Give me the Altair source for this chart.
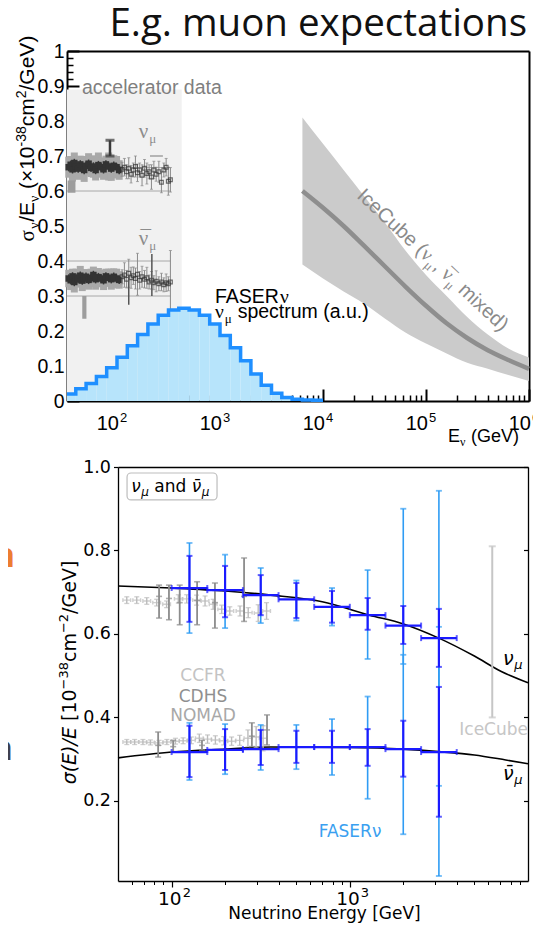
import altair as alt
import pandas as pd

W, H = 525, 916

# ================= TOP PANEL DATA =================
hist_edges = [32.7, 39.8, 50.1, 63.1, 79.4, 100, 125.9, 158.5, 199.5, 251.2, 316.2,
              398.1, 501.2, 631.0, 794.3, 1000, 1259, 1585, 1995, 2512, 3162, 3981,
              5012, 6310, 7943, 10000]
hist_vals = [0.020, 0.035, 0.050, 0.070, 0.095, 0.125, 0.158, 0.190, 0.220, 0.245,
             0.260, 0.265, 0.260, 0.245, 0.220, 0.187, 0.152, 0.115, 0.077, 0.045,
             0.022, 0.010, 0.005, 0.003, 0.002]

ice_E = [6310, 1e4, 1.585e4, 2.512e4, 3.981e4, 6.31e4, 1e5, 1.585e5, 2.512e5, 3.981e5, 6.31e5, 1e6]
ice_lo = [0.390, 0.350, 0.313, 0.278, 0.236, 0.196, 0.164, 0.136, 0.109, 0.092, 0.074, 0.057]
ice_hi = [0.810, 0.735, 0.660, 0.585, 0.510, 0.430, 0.360, 0.300, 0.240, 0.190, 0.150, 0.124]
ice_c = [0.600, 0.552, 0.500, 0.443, 0.385, 0.327, 0.272, 0.222, 0.180, 0.145, 0.117, 0.092]

acc_E = [34, 35.5, 37, 38.5, 40, 42, 44, 46, 48, 50, 53, 56, 59, 62, 66, 70, 74, 78, 83, 88, 93, 99, 105]
acc_nu_v = [0.668, 0.675, 0.662, 0.680, 0.670, 0.664, 0.676, 0.668, 0.660, 0.672, 0.678, 0.666,
            0.670, 0.660, 0.674, 0.668, 0.662, 0.676, 0.670, 0.664, 0.672, 0.668, 0.660]
acc_nu_box = [0.030, 0.025, 0.035, 0.030, 0.028, 0.032, 0.025, 0.030, 0.034, 0.028, 0.030, 0.026,
              0.032, 0.030, 0.036, 0.028, 0.030, 0.025, 0.040, 0.035, 0.030, 0.032, 0.028]
acc_nub_v = [0.350, 0.345, 0.356, 0.340, 0.352, 0.348, 0.358, 0.344, 0.350, 0.355, 0.346, 0.352,
             0.360, 0.348, 0.354, 0.350, 0.345, 0.356, 0.352, 0.348, 0.355, 0.350, 0.346]
acc_nub_box = [0.025, 0.028, 0.022, 0.030, 0.026, 0.024, 0.028, 0.030, 0.025, 0.022, 0.028, 0.026,
               0.024, 0.030, 0.026, 0.025, 0.028, 0.022, 0.026, 0.030, 0.024, 0.028, 0.025]

sp_E = [112, 118, 124, 130, 137, 144, 151, 158, 166, 175, 185, 195, 205, 216, 228, 240, 255, 270, 285, 300, 315, 330]
sp_nu_v = [0.662, 0.668, 0.655, 0.665, 0.648, 0.660, 0.670, 0.652, 0.660, 0.645, 0.665, 0.650,
           0.655, 0.640, 0.660, 0.648, 0.655, 0.625, 0.660, 0.668, 0.628, 0.632]
sp_nu_err = [0.020, 0.025, 0.020, 0.030, 0.025, 0.020, 0.030, 0.025, 0.020, 0.030, 0.025, 0.030,
             0.020, 0.035, 0.025, 0.020, 0.030, 0.030, 0.020, 0.025, 0.040, 0.035]
sp_nub_v = [0.355, 0.360, 0.348, 0.365, 0.352, 0.358, 0.350, 0.362, 0.345, 0.355, 0.348, 0.352,
            0.340, 0.345, 0.338, 0.342, 0.335, 0.340, 0.332, 0.338, 0.335, 0.340]
sp_nub_err = [0.020, 0.035, 0.025, 0.040, 0.030, 0.025, 0.030, 0.060, 0.025, 0.030, 0.025, 0.030,
              0.020, 0.025, 0.020, 0.030, 0.020, 0.025, 0.020, 0.025, 0.020, 0.090]

acc_lines_E1 = [32.7, 110, 32.7, 32.7, 200]
acc_lines_E2 = [330, 330, 330, 330, 330]
acc_lines_v = [0.600, 0.667, 0.400, 0.300, 0.340]

# ================= BOTTOM PANEL DATA =================
fx_lo = [100, 158.5, 251.2, 398.1, 631.0, 1000, 1585, 2512]
fx_hi = [158.5, 251.2, 398.1, 631.0, 1000, 1585, 2512, 3981]
fx_c = [125.9, 199.5, 316.2, 501.2, 794.3, 1259, 1995, 3162]

nu_c = [0.710, 0.705, 0.693, 0.683, 0.665, 0.645, 0.620, 0.590]
nu_st_lo = [0.629, 0.640, 0.645, 0.638, 0.627, 0.610, 0.576, 0.521]
nu_st_hi = [0.787, 0.763, 0.741, 0.722, 0.703, 0.686, 0.667, 0.660]
nu_tot_lo = [0.602, 0.614, 0.626, 0.632, 0.620, 0.540, 0.528, 0.236]
nu_tot_hi = [0.818, 0.790, 0.758, 0.728, 0.710, 0.753, 0.900, 0.943]

nub_c = [0.317, 0.322, 0.324, 0.329, 0.329, 0.329, 0.324, 0.317]
nub_st_lo = [0.257, 0.274, 0.286, 0.291, 0.291, 0.284, 0.258, 0.162]
nub_st_hi = [0.380, 0.372, 0.370, 0.368, 0.368, 0.372, 0.392, 0.473]
nub_tot_lo = [0.250, 0.264, 0.274, 0.276, 0.262, 0.205, 0.120, 0.020]
nub_tot_hi = [0.387, 0.384, 0.382, 0.382, 0.396, 0.450, 0.550, 0.617]

nu_curve_E = [50, 100, 200, 360, 700, 1290, 2000, 3160, 5000, 7080, 10000]
nu_curve_v = [0.715, 0.710, 0.703, 0.693, 0.677, 0.645, 0.624, 0.590, 0.547, 0.510, 0.483]
nub_curve_E = [50, 100, 200, 360, 1000, 2000, 3160, 5000, 7500, 10000]
nub_curve_v = [0.303, 0.317, 0.324, 0.329, 0.328, 0.324, 0.318, 0.310, 0.298, 0.289]

lg_nu_E = [56, 63.7, 72.5, 82.4, 93.7, 109, 121.5, 138, 154, 171, 191, 212, 242, 269, 306, 341]
lg_nu_v = [0.681, 0.681, 0.679, 0.675, 0.671, 0.684, 0.684, 0.681, 0.679, 0.671, 0.659, 0.655,
           0.655, 0.651, 0.650, 0.655]
lg_nu_e = [0.008, 0.008, 0.008, 0.008, 0.008, 0.010, 0.010, 0.012, 0.012, 0.012, 0.010, 0.010,
           0.012, 0.012, 0.020, 0.020]
lg_nub_E = [56, 62, 69, 76, 85, 94, 105, 116, 129, 143, 159, 176, 196, 217, 241, 268, 298, 326]
lg_nub_v = [0.341, 0.341, 0.341, 0.340, 0.339, 0.341, 0.343, 0.344, 0.345, 0.350, 0.348, 0.346,
            0.344, 0.343, 0.345, 0.350, 0.353, 0.350]
lg_nub_e = [0.006, 0.006, 0.006, 0.006, 0.006, 0.006, 0.007, 0.007, 0.008, 0.010, 0.010, 0.010,
            0.010, 0.010, 0.012, 0.020, 0.025, 0.030]

cd_nu_E = [85, 96.6, 111, 139, 175, 255]
cd_nu_c = [0.690, 0.685, 0.675, 0.680, 0.675, 0.690]
cd_nu_lo = [0.638, 0.634, 0.622, 0.622, 0.614, 0.630]
cd_nu_hi = [0.717, 0.717, 0.717, 0.725, 0.722, 0.782]
cd_nub_E = [84, 102, 148, 282, 343]
cd_nub_c = [0.333, 0.330, 0.333, 0.355, 0.370]
cd_nub_lo = [0.305, 0.318, 0.322, 0.330, 0.334]
cd_nub_hi = [0.365, 0.345, 0.345, 0.387, 0.406]

ice_bar_E = [6300]
ice_bar_lo = [0.40]
ice_bar_hi = [0.81]

# ================= helpers =================
ONE = pd.DataFrame({'a': [0]})


def sc_xt():
    return alt.Scale(type='log', domain=[32.7, 1e6], range=[59, 521])


def sc_yt():
    return alt.Scale(domain=[0, 1], range=[393, 43])


def sc_xb():
    return alt.Scale(type='log', domain=[50, 10000], range=[110, 520])


def sc_yb():
    return alt.Scale(domain=[0.008, 1.0], range=[873, 459])


SX = {'top': sc_xt, 'bot': sc_xb}
SY = {'top': sc_yt, 'bot': sc_yb}


def X(panel, f='x', axis=None):
    return alt.X(f'{f}:Q', scale=SX[panel](), axis=axis)


def Y(panel, f='y', axis=None):
    return alt.Y(f'{f}:Q', scale=SY[panel](), axis=axis)


AR = {c: 0.556 for c in '0123456789'}
AR.update({' ': 0.278, '(': 0.333, ')': 0.333, '×': 0.584, '-': 0.333, '/': 0.278, '.': 0.278,
           ',': 0.278, 'A': 0.667, 'E': 0.667, 'F': 0.611, 'G': 0.778, 'R': 0.722, 'S': 0.667,
           'V': 0.667, 'C': 0.722, 'I': 0.278, 'a': 0.556, 'b': 0.556, 'c': 0.5, 'd': 0.556,
           'e': 0.556, 'i': 0.222, 'm': 0.833, 'p': 0.556, 'r': 0.333, 's': 0.5, 't': 0.278,
           'u': 0.556, 'x': 0.5})
SR = {'ν': 0.5, 'μ': 0.576, 'σ': 0.6, '¯': 0.333}
DJ = {c: 0.636 for c in '0123456789'}
DJ.update({' ': 0.318, '[': 0.39, ']': 0.39, '(': 0.39, ')': 0.39, '/': 0.337, '−': 0.838,
           'E': 0.632, 'G': 0.775, 'V': 0.684, 'c': 0.55, 'm': 0.974, 'a': 0.613, 'n': 0.634,
           'd': 0.635, 'e': 0.615, 'σ': 0.634, 'ν': 0.592, 'μ': 0.636, '¯': 0.5})
FONTS = {'sans': ('Liberation Sans', AR), 'serif': ('Liberation Serif', SR), 'dj': ('DejaVu Sans', DJ)}


def tw(text, f, s):
    tab = FONTS[f][1]
    return sum(tab.get(ch, 0.55) for ch in text) * s


def rich(pieces, pos, color, angle=0, align='left', baseline='alphabetic'):
    total = sum(tw(p['t'], p['f'], p['s']) for p in pieces if p.get('adv', True))
    cur = {'left': 0, 'center': -total / 2, 'right': -total}[align]
    out = []
    for p in pieces:
        font = FONTS[p['f']][0]
        txt = p['t']
        stripped = txt.lstrip(' ')
        lead = tw(txt[:len(txt) - len(stripped)], p['f'], p['s'])
        if stripped.strip():
            props = dict(text=stripped, font=font, fontSize=p['s'], align='left', baseline=baseline,
                         dx=cur + lead + p.get('off', 0), dy=p.get('dy', 0), color=p.get('c', color),
                         fontStyle=p.get('st', 'normal'))
            if angle:
                props['angle'] = angle
            if pos[0] == 'px':
                ch = alt.Chart(ONE).mark_text(**props).encode(x=alt.value(pos[1]), y=alt.value(pos[2]))
            else:
                ch = alt.Chart(pd.DataFrame({'x': [pos[2]], 'y': [pos[3]]})).mark_text(**props).encode(
                    x=X(pos[1]), y=Y(pos[1]))
            out.append(ch)
        if p.get('adv', True):
            cur += tw(txt, p['f'], p['s'])
    return out


def vbars(panel, xs, lo, hi, color, width, cap=0, capw=1.5):
    df = pd.DataFrame({'x': xs, 'lo': lo, 'hi': hi})
    res = [alt.Chart(df).mark_rule(color=color, strokeWidth=width).encode(
        x=X(panel), y=Y(panel, 'lo'), y2=alt.Y2('hi:Q'))]
    if cap:
        cdf = pd.DataFrame({'x': list(xs) + list(xs), 'y': list(lo) + list(hi)})
        res.append(alt.Chart(cdf).mark_tick(orient='horizontal', size=cap, thickness=capw, color=color).encode(
            x=X(panel), y=Y(panel)))
    return res


L = []

# ================= TOP PANEL =================
L.append(alt.Chart(pd.DataFrame({'x': [32.7], 'x2': [425], 'y': [0], 'y2': [0.89]})).mark_rect(
    color='#f1f1f1').encode(x=X('top'), x2=alt.X2('x2:Q'), y=Y('top'), y2=alt.Y2('y2:Q')))

L.append(alt.Chart(pd.DataFrame({'x': acc_lines_E1, 'x2': acc_lines_E2, 'y': acc_lines_v})).mark_rule(
    color='#a8a8a8', strokeWidth=1).encode(x=X('top'), x2=alt.X2('x2:Q'), y=Y('top')))

for vals, box in [(acc_nu_v, acc_nu_box), (acc_nub_v, acc_nub_box)]:
    lo = [v - b for v, b in zip(vals, box)]
    hi = [v + b for v, b in zip(vals, box)]
    L += vbars('top', acc_E, lo, hi, '#a9a9a9', 7)
L.append(alt.Chart(pd.DataFrame({'x': [33.2, 46], 'x2': [39.5, 50.5], 'y': [0.595, 0.235], 'y2': [0.630, 0.300]})).mark_rect(
    color='#9d9d9d').encode(x=X('top'), x2=alt.X2('x2:Q'), y=Y('top'), y2=alt.Y2('y2:Q')))
for vals in [acc_nu_v, acc_nub_v]:
    lo = [v - 0.012 for v in vals]
    hi = [v + 0.012 for v in vals]
    L += vbars('top', acc_E, lo, hi, '#3a3a3a', 1.5)
    L.append(alt.Chart(pd.DataFrame({'x': acc_E, 'y': vals})).mark_square(
        size=42, color='#333333', opacity=1).encode(x=X('top'), y=Y('top')))
for vals, err in [(sp_nu_v, sp_nu_err), (sp_nub_v, sp_nub_err)]:
    lo = [v - e for v, e in zip(vals, err)]
    hi = [v + e for v, e in zip(vals, err)]
    L += vbars('top', sp_E, lo, hi, '#8a8a8a', 1, cap=3, capw=1)
    L.append(alt.Chart(pd.DataFrame({'x': sp_E, 'y': vals})).mark_point(
        shape='square', size=14, color='#333333', filled=False, strokeWidth=1.2).encode(x=X('top'), y=Y('top')))
L += vbars('top', [85.5], [0.700], [0.745], '#3a3a3a', 2.5, cap=9, capw=3)
L.append(alt.Chart(pd.DataFrame({'x': [209], 'x2': [279], 'y': [0.70]})).mark_rule(
    color='#a0a0a0', strokeWidth=1.5).encode(x=X('top'), x2=alt.X2('x2:Q'), y=Y('top')))
L += vbars('top', [130, 218], [0.275, 0.300], [0.360, 0.420], '#555555', 1.5)

# FASER histogram
L.append(alt.Chart(pd.DataFrame({'x': hist_edges[:-1], 'x2': hist_edges[1:], 'y': [0] * len(hist_vals),
                                 'y2': hist_vals})).mark_rect(color='#b7e4fb').encode(
    x=X('top'), x2=alt.X2('x2:Q'), y=Y('top'), y2=alt.Y2('y2:Q')))
L.append(alt.Chart(pd.DataFrame({'x': hist_edges, 'y': hist_vals + [hist_vals[-1]]})).mark_line(
    interpolate='step-after', color='#1f8fff', strokeWidth=3.5).encode(x=X('top'), y=Y('top')))

# IceCube band
L.append(alt.Chart(pd.DataFrame({'x': ice_E, 'lo': ice_lo, 'hi': ice_hi})).mark_area(
    color='#cbcbcb', interpolate='monotone').encode(x=X('top'), y=Y('top', 'lo'), y2=alt.Y2('hi:Q')))
L.append(alt.Chart(pd.DataFrame({'x': ice_E, 'y': ice_c})).mark_line(
    color='#8e8e8e', strokeWidth=4.5, interpolate='monotone').encode(x=X('top'), y=Y('top')))

# top texts
L.append(alt.Chart(pd.DataFrame({'x': [45.7], 'y': [0.894]})).mark_text(
    text='accelerator data', font='Liberation Sans', fontSize=19.5, color='#7f7f7f', align='left',
    baseline='middle').encode(x=X('top'), y=Y('top')))
L += rich([dict(t='ν', s=21, f='serif'), dict(t='μ', s=13, f='serif', dy=5)],
          ('data', 'top', 163, 0.751), '#8c8c8c')
L += rich([dict(t='¯', s=21, f='serif', adv=False, off=1.7), dict(t='ν', s=21, f='serif'),
           dict(t='μ', s=13, f='serif', dy=5)], ('data', 'top', 163, 0.446), '#8c8c8c')
L += rich([dict(t='FASER', s=19.5, f='sans'), dict(t='ν', s=19.5, f='serif')],
          ('data', 'top', 894, 0.28), 'black')
L += rich([dict(t='ν', s=19.5, f='serif'), dict(t='μ', s=13, f='serif', dy=5),
           dict(t=' spectrum (a.u.)', s=19.5, f='sans')], ('data', 'top', 894, 0.237), 'black')
L += rich([dict(t='IceCube (', s=20, f='sans'), dict(t='ν', s=20, f='serif'),
           dict(t='μ', s=13, f='serif', dy=5), dict(t=', ', s=20, f='sans'),
           dict(t='¯', s=20, f='serif', adv=False, off=1.6), dict(t='ν', s=20, f='serif'),
           dict(t='μ', s=13, f='serif', dy=5), dict(t=' mixed)', s=20, f='sans')],
          ('data', 'top', 2.09e4, 0.583), '#8a8a8a', angle=43)
L += rich([dict(t='E', s=18, f='sans'), dict(t='ν', s=12, f='serif', dy=4),
           dict(t=' (GeV)', s=18, f='sans')], ('px', 440, 434), 'black')
L += rich([dict(t='σ', s=21, f='serif'), dict(t='ν', s=14, f='serif', dy=5),
           dict(t='/E', s=21, f='sans'), dict(t='ν', s=14, f='serif', dy=5),
           dict(t=' (×10', s=21, f='sans'), dict(t='-38', s=14, f='sans', dy=-8),
           dict(t='cm', s=21, f='sans'), dict(t='2', s=14, f='sans', dy=-8),
           dict(t='/GeV)', s=21, f='sans')], ('px', 26, 130.5), 'black', angle=270, align='center')

# top x tick labels
top_dec = [100, 1000, 10000, 100000, 1000000]
top_exp = ['2', '3', '4', '5', '6']
tdf = pd.DataFrame({'x': top_dec, 'y': [0] * 5, 'e': top_exp})
L.append(alt.Chart(tdf).mark_text(text='10', font='Liberation Sans', fontSize=20, align='right',
                                  baseline='alphabetic', dx=2, dy=29, color='black').encode(x=X('top'), y=Y('top')))
L.append(alt.Chart(tdf).mark_text(font='Liberation Sans', fontSize=13, align='left',
                                  baseline='alphabetic', dx=3, dy=21, color='black').encode(
    x=X('top'), y=Y('top'), text='e:N'))

# top axes
top_major_y = [0, 0.1, 0.2, 0.3, 0.4, 0.5, 0.6, 0.7, 0.8, 0.9, 1.0]
top_minor_y = [round(0.02 * i, 2) for i in range(51) if i % 5 != 0]
top_major_x = [100, 1e3, 1e4, 1e5, 1e6]
top_minor_x = [m * 10 ** k for k in range(1, 6) for m in range(2, 10) if m * 10 ** k > 33]
BASE = dict(grid=False, title=None, labelFlush=False, labelOverlap=False, labelBound=False,
            domainColor='black', tickColor='black')


def ax(**kw):
    d = dict(BASE)
    d.update(kw)
    return alt.Axis(**d)


def axis_layer(panel, xa, ya):
    df = pd.DataFrame({'x': [200.0], 'y': [0.5]})
    return alt.Chart(df).mark_point(opacity=0).encode(x=X(panel, axis=xa), y=Y(panel, axis=ya))


L.append(axis_layer('top',
                    ax(orient='bottom', offset=393 - H, values=top_major_x, ticks=False, labels=False,
                       domain=True, domainWidth=2),
                    ax(orient='left', offset=-59, values=top_major_y, format='.1~f', ticks=False,
                       domain=True, domainWidth=2, labelFont='Liberation Sans', labelFontSize=19.5,
                       labelColor='black', labelPadding=3)))
L.append(axis_layer('top',
                    ax(orient='top', offset=-393, values=top_major_x, tickSize=12, tickWidth=2,
                       labels=False, domain=False),
                    ax(orient='right', offset=59 - W, values=top_major_y, tickSize=12, tickWidth=2,
                       labels=False, domain=False)))
L.append(axis_layer('top',
                    ax(orient='top', offset=-393, values=top_minor_x, tickSize=6, tickWidth=1.5,
                       labels=False, domain=False),
                    ax(orient='right', offset=59 - W, values=top_minor_y, tickSize=6, tickWidth=1.5,
                       labels=False, domain=False)))
L.append(axis_layer('top',
                    ax(orient='top', offset=-43, values=[1e3], ticks=False, labels=False, domain=True,
                       domainWidth=2),
                    ax(orient='right', offset=521 - W, values=[0.5], ticks=False, labels=False,
                       domain=True, domainWidth=2)))

# ================= BOTTOM PANEL =================
L.append(alt.Chart(pd.DataFrame({'x': nu_curve_E, 'y': nu_curve_v})).mark_line(
    color='black', strokeWidth=1.6, interpolate='monotone').encode(x=X('bot'), y=Y('bot')))
L.append(alt.Chart(pd.DataFrame({'x': nub_curve_E, 'y': nub_curve_v})).mark_line(
    color='black', strokeWidth=1.6, interpolate='monotone').encode(x=X('bot'), y=Y('bot')))

XCAP = 'M-1,-0.5L-1,0.5M-1,0L1,0M1,-0.5L1,0.5'
for Es, vs, es in [(lg_nu_E, lg_nu_v, lg_nu_e), (lg_nub_E, lg_nub_v, lg_nub_e)]:
    lo = [v - e for v, e in zip(vs, es)]
    hi = [v + e for v, e in zip(vs, es)]
    L += vbars('bot', Es, lo, hi, '#bcbcbc', 1.4, cap=5, capw=1.3)
    L.append(alt.Chart(pd.DataFrame({'x': Es, 'y': vs})).mark_point(
        shape=XCAP, size=60, color='#bcbcbc', filled=False, strokeWidth=1.4).encode(x=X('bot'), y=Y('bot')))
for Es, cs, lo, hi in [(cd_nu_E, cd_nu_c, cd_nu_lo, cd_nu_hi), (cd_nub_E, cd_nub_c, cd_nub_lo, cd_nub_hi)]:
    L += vbars('bot', Es, lo, hi, '#8c8c8c', 1.8, cap=6, capw=1.6)
    L.append(alt.Chart(pd.DataFrame({'x': Es, 'y': cs})).mark_tick(
        orient='horizontal', size=6, thickness=1.6, color='#8c8c8c').encode(x=X('bot'), y=Y('bot')))
L += vbars('bot', ice_bar_E, ice_bar_lo, ice_bar_hi, '#c6c6c6', 2, cap=7, capw=2)

for cs, tlo, thi in [(nu_c, nu_tot_lo, nu_tot_hi), (nub_c, nub_tot_lo, nub_tot_hi)]:
    L += vbars('bot', fx_c, tlo, thi, '#2f9cf4', 1.6, cap=6, capw=1.8)
for cs, slo, shi in [(nu_c, nu_st_lo, nu_st_hi), (nub_c, nub_st_lo, nub_st_hi)]:
    L += vbars('bot', fx_c, slo, shi, '#1a1aff', 2.2, cap=6, capw=2)
    L.append(alt.Chart(pd.DataFrame({'x': fx_lo, 'x2': fx_hi, 'y': cs})).mark_rule(
        color='#1a1aff', strokeWidth=2.2).encode(x=X('bot'), x2=alt.X2('x2:Q'), y=Y('bot')))
    L.append(alt.Chart(pd.DataFrame({'x': fx_lo + fx_hi, 'y': cs + cs})).mark_tick(
        orient='vertical', size=6, thickness=2, color='#1a1aff').encode(x=X('bot'), y=Y('bot')))

# legend box
L.append(alt.Chart(pd.DataFrame({'x': [56.2], 'x2': [179.8], 'y': [0.921], 'y2': [0.9856]})).mark_rect(
    cornerRadius=4, fill='white', stroke='#bdbdbd', strokeWidth=1.2).encode(
    x=X('bot'), x2=alt.X2('x2:Q'), y=Y('bot'), y2=alt.Y2('y2:Q')))
L += rich([dict(t='ν', s=17, f='dj', st='italic'), dict(t='μ', s=12, f='dj', st='italic', dy=4),
           dict(t=' and ', s=17, f='dj'), dict(t='¯', s=17, f='dj', adv=False, off=1.5),
           dict(t='ν', s=17, f='dj', st='italic'), dict(t='μ', s=12, f='dj', st='italic', dy=4)],
          ('data', 'bot', 59.3, 0.94), 'black')

for txt, col, yv in [('CCFR', '#c3c3c3', 0.500), ('CDHS', '#8f8f8f', 0.449), ('NOMAD', '#a8a8a8', 0.404)]:
    L.append(alt.Chart(pd.DataFrame({'x': [150], 'y': [yv]})).mark_text(
        text=txt, font='DejaVu Sans', fontSize=17, color=col, align='center', baseline='middle').encode(
        x=X('bot'), y=Y('bot')))
L.append(alt.Chart(pd.DataFrame({'x': [10000], 'y': [0.37]})).mark_text(
    text='IceCube', font='DejaVu Sans', fontSize=17, color='#c6c6c6', align='right', baseline='middle').encode(
    x=X('bot'), y=Y('bot')))
L.append(alt.Chart(pd.DataFrame({'x': [1003], 'y': [0.126]})).mark_text(
    text='FASERν', font='DejaVu Sans', fontSize=17, color='#3aa0f0', align='center', baseline='middle').encode(
    x=X('bot'), y=Y('bot')))
L += rich([dict(t='ν', s=19, f='dj', st='italic'), dict(t='μ', s=13, f='dj', st='italic', dy=4)],
          ('data', 'bot', 7250, 0.526), 'black')
L += rich([dict(t='¯', s=19, f='dj', adv=False, off=1.8), dict(t='ν', s=19, f='dj', st='italic'),
           dict(t='μ', s=13, f='dj', st='italic', dy=4)], ('data', 'bot', 7250, 0.25), 'black')

bdf = pd.DataFrame({'x': [100, 1000], 'y': [0.008, 0.008], 'e': ['2', '3']})
L.append(alt.Chart(bdf).mark_text(text='10', font='DejaVu Sans', fontSize=18.5, align='right',
                                  baseline='alphabetic', dx=10, dy=24, color='black').encode(x=X('bot'), y=Y('bot')))
L.append(alt.Chart(bdf).mark_text(font='DejaVu Sans', fontSize=13, align='left', baseline='alphabetic',
                                  dx=11, dy=16, color='black').encode(x=X('bot'), y=Y('bot'), text='e:N'))
L.append(alt.Chart(ONE).mark_text(text='Neutrino Energy [GeV]', font='DejaVu Sans', fontSize=17,
                                  align='center', baseline='alphabetic', color='black').encode(
    x=alt.value(316.5), y=alt.value(911)))
L += rich([dict(t='σ(E)/E', s=19, f='dj', st='italic'), dict(t=' [10', s=19, f='dj'),
           dict(t='−38', s=13, f='dj', dy=-8), dict(t='cm', s=19, f='dj'),
           dict(t='−2', s=13, f='dj', dy=-8), dict(t='/GeV]', s=19, f='dj')],
          ('px', 68, 664.5), 'black', angle=270, align='center')

bot_y = [0.2, 0.4, 0.6, 0.8, 1.0]
bot_major_x = [100, 1000]
bot_minor_x = [60, 70, 80, 90, 200, 300, 400, 500, 600, 700, 800, 900,
               2000, 3000, 4000, 5000, 6000, 7000, 8000, 9000]
L.append(axis_layer('bot',
                    ax(orient='bottom', offset=873 - H, values=bot_major_x, tickSize=6, tickWidth=1.2,
                       labels=False, domain=True, domainWidth=1.3),
                    ax(orient='left', offset=-110, values=bot_y, format='.1f', tickSize=4.5, tickWidth=1.2,
                       domain=True, domainWidth=1.3, labelFont='DejaVu Sans', labelFontSize=17.5,
                       labelColor='black', labelPadding=3)))
L.append(axis_layer('bot',
                    ax(orient='bottom', offset=873 - H, values=bot_minor_x, tickSize=3.5, tickWidth=1,
                       labels=False, domain=False),
                    ax(orient='left', offset=-520, values=bot_y, tickSize=4.5, tickWidth=1.2,
                       labels=False, domain=True, domainWidth=1.3)))
L.append(axis_layer('bot',
                    ax(orient='top', offset=-459, values=[1000], ticks=False, labels=False, domain=True,
                       domainWidth=1.3),
                    None))

# ================= slide texts =================
L.append(alt.Chart(ONE).mark_text(text='E.g. muon expectations', font='Open Sans', fontSize=38.5,
                                  align='right', baseline='alphabetic', color='#111111').encode(
    x=alt.value(519), y=alt.value(28)))
L.append(alt.Chart(ONE).mark_text(text='n', font='Open Sans', fontSize=34, fontWeight='bold',
                                  align='right', baseline='alphabetic', color='#ed7d31').encode(
    x=alt.value(7), y=alt.value(559)))
L.append(alt.Chart(ONE).mark_text(text='n', font='Open Sans', fontSize=34,
                                  align='right', baseline='alphabetic', color='#3c404c').encode(
    x=alt.value(5), y=alt.value(752)))

chart = alt.layer(*L).resolve_scale(x='independent', y='independent').properties(
    width=W, height=H, autosize=alt.AutoSizeParams(type='none'), padding=0,
    background='white').configure_view(stroke=None)

chart.save('out.html', embed_options={'renderer': 'svg', 'actions': False})
